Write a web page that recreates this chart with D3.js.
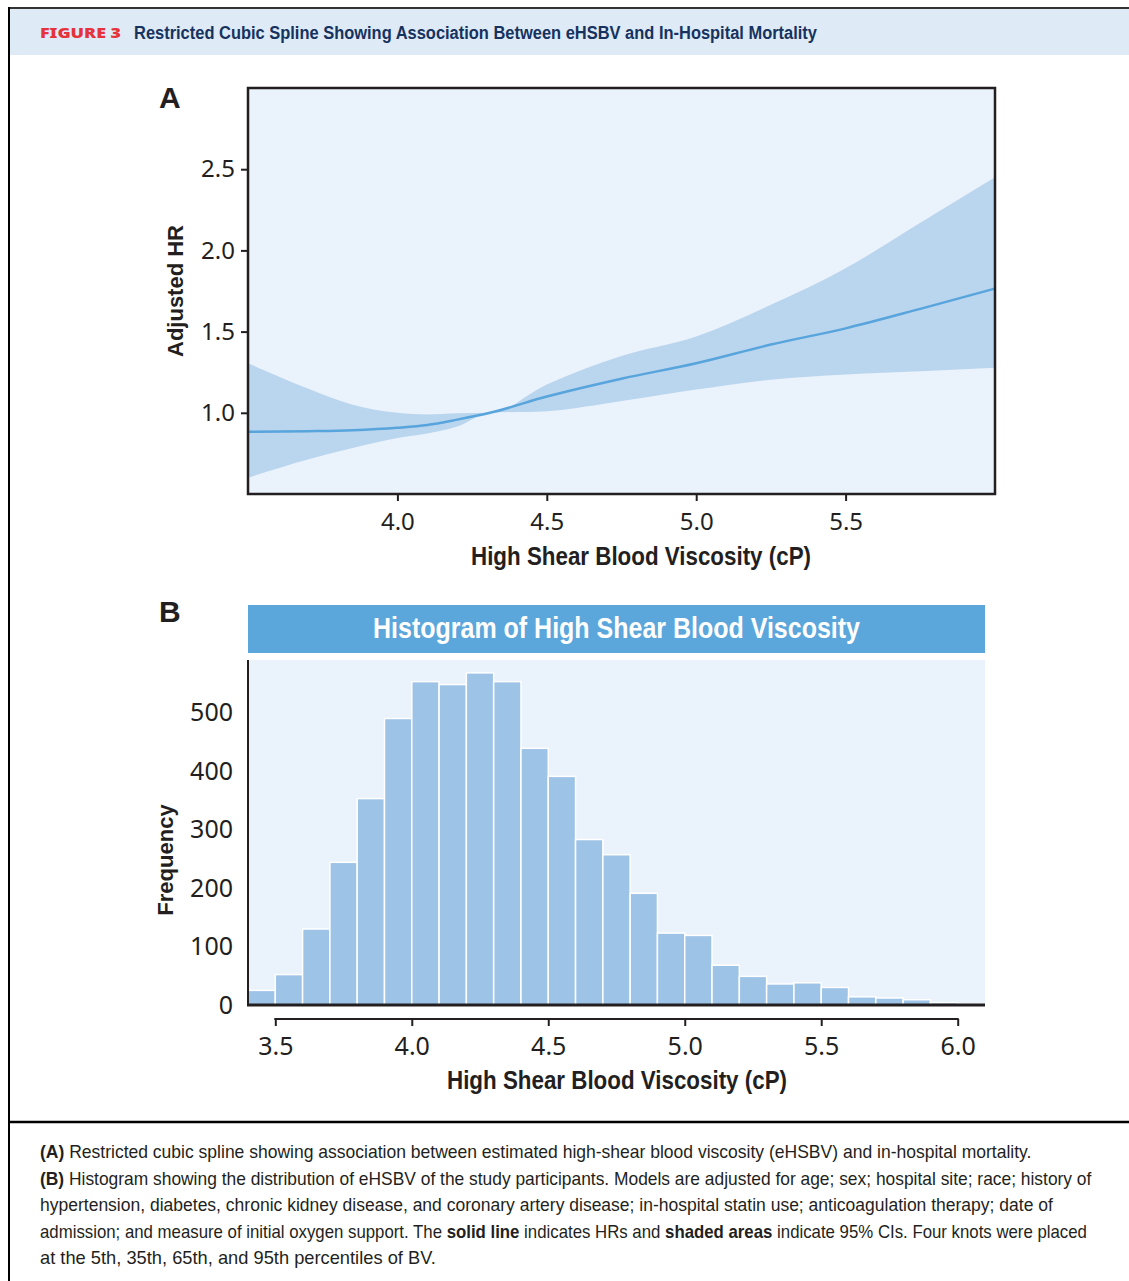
<!DOCTYPE html>
<html>
<head>
<meta charset="utf-8">
<script src="https://cdn.jsdelivr.net/npm/d3@7"></script>
<style>
  html, body { margin: 0; padding: 0; background: #fff; }
  svg { display: block; }
  .tick text { fill: #231f20; }
</style>
</head>
<body>
<svg id="fig" width="1129" height="1281"></svg>
<script>
// Restricted cubic spline estimates (HR with 95% CI) across eHSBV
const splineX = [3.5, 3.7, 3.85, 4.0, 4.1, 4.2, 4.31, 4.5, 4.75, 5.0, 5.25, 5.5, 5.75, 6.0];
const splineHR = [0.883, 0.887, 0.893, 0.908, 0.925, 0.958, 1.0, 1.10, 1.21, 1.305, 1.42, 1.52, 1.64, 1.765];
const splineUpper = [1.305, 1.15, 1.05, 1.0, 0.99, 0.998, 1.0, 1.175, 1.35, 1.47, 1.665, 1.89, 2.17, 2.45];
const splineLower = [0.60, 0.713, 0.783, 0.845, 0.872, 0.915, 1.0, 1.01, 1.072, 1.143, 1.204, 1.236, 1.256, 1.277];
const hrTicks = [1.0, 1.5, 2.0, 2.5];
const bvTicksA = [4.0, 4.5, 5.0, 5.5];

// Histogram of eHSBV, bins of 0.1 cP starting at 3.4
const binStarts = [3.4, 3.5, 3.6, 3.7, 3.8, 3.9, 4.0, 4.1, 4.2, 4.3, 4.4, 4.5, 4.6, 4.7, 4.8, 4.9, 5.0, 5.1, 5.2, 5.3, 5.4, 5.5, 5.6, 5.7, 5.8, 5.9, 6.0];
const binCounts = [25, 52, 130, 244, 353, 490, 553, 548, 568, 553, 439, 391, 283, 257, 191, 123, 119, 68, 49, 36, 38, 30, 14, 12, 9, 4, 1];
const binWidth = 0.1;
const freqTicks = [0, 100, 200, 300, 400, 500];
const bvTicksB = [3.5, 4.0, 4.5, 5.0, 5.5, 6.0];

const svg = d3.select("#fig");
const ink = "#231f20";
const sans = "'Noto Sans', 'DejaVu Sans', sans-serif";
const boldSans = "'Liberation Sans', Arial, sans-serif";

// condensed text: squeeze a single-run string into a fixed width
function fitText(sel, width) {
  return sel.attr("textLength", width).attr("lengthAdjust", "spacingAndGlyphs");
}

// ---------- Frame and header ----------
svg.append("rect").attr("x", 9).attr("y", 9).attr("width", 1120).attr("height", 46).attr("fill", "#deeaf6");
svg.append("line").attr("x1", 8).attr("x2", 1129).attr("y1", 8).attr("y2", 8).attr("stroke", "#333").attr("stroke-width", 2);
svg.append("line").attr("x1", 9).attr("x2", 9).attr("y1", 7).attr("y2", 1281).attr("stroke", "#000").attr("stroke-width", 2);
svg.append("line").attr("x1", 8).attr("x2", 1129).attr("y1", 1122).attr("y2", 1122).attr("stroke", "#000").attr("stroke-width", 2.5);

fitText(svg.append("text").attr("x", 40).attr("y", 38)
  .attr("font-family", sans).attr("font-weight", "900").attr("font-size", 14)
  .attr("fill", "#e6323b").text("FIGURE 3"), 81);
fitText(svg.append("text").attr("x", 134).attr("y", 39)
  .attr("font-family", boldSans).attr("font-weight", "bold").attr("font-size", 17.5)
  .attr("fill", "#16325f")
  .text("Restricted Cubic Spline Showing Association Between eHSBV and In-Hospital Mortality"), 683);

// ---------- Panel A: spline ----------
const A = { left: 248, right: 995, top: 88, bottom: 494 };
const xA = d3.scaleLinear().domain([3.5, 6.0]).range([A.left, A.right]);
const yA = d3.scaleLinear().domain([0.5, 3.0]).range([A.bottom, A.top]);
const splineRows = splineX.map((x, i) => ({ x, hr: splineHR[i], lo: splineLower[i], hi: splineUpper[i] }));

svg.append("text").attr("x", 159).attr("y", 108)
  .attr("font-family", boldSans).attr("font-weight", "bold").attr("font-size", 30).attr("fill", ink).text("A");

svg.append("rect").attr("x", A.left).attr("y", A.top)
  .attr("width", A.right - A.left).attr("height", A.bottom - A.top).attr("fill", "#eaf2fb");

svg.append("path").datum(splineRows)
  .attr("fill", "#bad5ee")
  .attr("d", d3.area().x(d => xA(d.x)).y0(d => yA(d.lo)).y1(d => yA(d.hi)).curve(d3.curveMonotoneX));

svg.append("path").datum(splineRows)
  .attr("fill", "none").attr("stroke", "#58a4dc").attr("stroke-width", 2.5)
  .attr("d", d3.line().x(d => xA(d.x)).y(d => yA(d.hr)).curve(d3.curveMonotoneX));

svg.append("rect").attr("x", A.left).attr("y", A.top)
  .attr("width", A.right - A.left).attr("height", A.bottom - A.top)
  .attr("fill", "none").attr("stroke", ink).attr("stroke-width", 2.5);

const yAxisA = svg.append("g").attr("transform", `translate(${A.left},0)`)
  .call(d3.axisLeft(yA).tickValues(hrTicks).tickFormat(d3.format(".1f")).tickSize(7).tickPadding(6));
yAxisA.select(".domain").remove();
yAxisA.selectAll("line").attr("stroke", ink).attr("stroke-width", 2);
yAxisA.selectAll("text").attr("font-family", sans).attr("font-size", 24);

const xAxisA = svg.append("g").attr("transform", `translate(0,${A.bottom})`)
  .call(d3.axisBottom(xA).tickValues(bvTicksA).tickFormat(d3.format(".1f")).tickSize(7).tickPadding(12));
xAxisA.select(".domain").remove();
xAxisA.selectAll("line").attr("stroke", ink).attr("stroke-width", 2);
xAxisA.selectAll("text").attr("font-family", sans).attr("font-size", 24);

fitText(svg.append("text").attr("x", 471).attr("y", 565)
  .attr("font-family", boldSans).attr("font-weight", "bold").attr("font-size", 26).attr("fill", ink)
  .text("High Shear Blood Viscosity (cP)"), 340);
svg.append("text").attr("transform", "translate(183,291) rotate(-90)").attr("text-anchor", "middle")
  .attr("font-family", boldSans).attr("font-weight", "bold").attr("font-size", 22).attr("fill", ink)
  .text("Adjusted HR");

// ---------- Panel B: histogram ----------
const B = { left: 248, right: 985, top: 660, bottom: 1005 };
const xB = d3.scaleLinear().domain([3.4, 6.1]).range([B.left, B.right]);
const yB = d3.scaleLinear().domain([0, 590]).range([B.bottom, B.top]);

svg.append("text").attr("x", 159).attr("y", 622)
  .attr("font-family", boldSans).attr("font-weight", "bold").attr("font-size", 30).attr("fill", ink).text("B");

svg.append("rect").attr("x", 248).attr("y", 605).attr("width", 737).attr("height", 48).attr("fill", "#5ba6db");
fitText(svg.append("text").attr("x", 373).attr("y", 638)
  .attr("font-family", boldSans).attr("font-weight", "bold").attr("font-size", 30).attr("fill", "#fff")
  .text("Histogram of High Shear Blood Viscosity"), 487);

svg.append("rect").attr("x", B.left).attr("y", B.top)
  .attr("width", B.right - B.left).attr("height", B.bottom - B.top).attr("fill", "#eaf2fb");

svg.append("g").selectAll("rect")
  .data(binStarts.map((x0, i) => ({ x0, x1: x0 + binWidth, n: binCounts[i] })))
  .join("rect")
  .attr("x", d => xB(d.x0)).attr("width", d => xB(d.x1) - xB(d.x0))
  .attr("y", d => yB(d.n)).attr("height", d => yB(0) - yB(d.n))
  .attr("fill", "#9dc3e7").attr("stroke", "#fff").attr("stroke-width", 1.5);

svg.append("line").attr("x1", B.left).attr("x2", B.left).attr("y1", B.top).attr("y2", B.bottom)
  .attr("stroke", ink).attr("stroke-width", 2);
svg.append("line").attr("x1", B.left - 1).attr("x2", B.right).attr("y1", B.bottom).attr("y2", B.bottom)
  .attr("stroke", ink).attr("stroke-width", 3);

const yAxisB = svg.append("g").attr("transform", `translate(${B.left},0)`)
  .call(d3.axisLeft(yB).tickValues(freqTicks).tickSize(0).tickPadding(15));
yAxisB.select(".domain").remove();
yAxisB.selectAll("text").attr("font-family", sans).attr("font-size", 25);

const axisBY = 1019;
const xAxisB = svg.append("g").attr("transform", `translate(0,${axisBY})`)
  .call(d3.axisBottom(xB).tickValues(bvTicksB).tickFormat(d3.format(".1f")).tickSize(7).tickPadding(11));
xAxisB.select(".domain").remove();
xAxisB.selectAll("line").attr("stroke", ink).attr("stroke-width", 2);
xAxisB.selectAll("text").attr("font-family", sans).attr("font-size", 25);
svg.append("line").attr("x1", xB(bvTicksB[0]) - 1).attr("x2", xB(bvTicksB[bvTicksB.length - 1]) + 1)
  .attr("y1", axisBY).attr("y2", axisBY).attr("stroke", ink).attr("stroke-width", 2);

fitText(svg.append("text").attr("x", 447).attr("y", 1089)
  .attr("font-family", boldSans).attr("font-weight", "bold").attr("font-size", 26).attr("fill", ink)
  .text("High Shear Blood Viscosity (cP)"), 340);
svg.append("text").attr("transform", "translate(173,860) rotate(-90)").attr("text-anchor", "middle")
  .attr("font-family", boldSans).attr("font-weight", "bold").attr("font-size", 22).attr("fill", ink)
  .text("Frequency");

// ---------- Legend text ----------
const captionLines = [
  [["(A)", true], [" Restricted cubic spline showing association between estimated high-shear blood viscosity (eHSBV) and in-hospital mortality.", false]],
  [["(B)", true], [" Histogram showing the distribution of eHSBV of the study participants. Models are adjusted for age; sex; hospital site; race; history of", false]],
  [["hypertension, diabetes, chronic kidney disease, and coronary artery disease; in-hospital statin use; anticoagulation therapy; date of", false]],
  [["admission; and measure of initial oxygen support. The ", false], ["solid line", true], [" indicates HRs and ", false], ["shaded areas", true], [" indicate 95% CIs. Four knots were placed", false]],
  [["at the 5th, 35th, 65th, and 95th percentiles of BV.", false]]
];
// line widths of the set legend text, each line scaled horizontally to its width
const captionWidths = [992, 1052, 1013, 1048, 396];
const cap = svg.append("g").attr("font-family", boldSans).attr("font-size", 17.5).attr("fill", ink);
captionLines.forEach((parts, i) => {
  const t = cap.append("text").attr("x", 0).attr("y", 0);
  parts.forEach(([s, b]) => t.append("tspan").attr("font-weight", b ? "bold" : "normal").text(s));
  const k = captionWidths[i] / t.node().getComputedTextLength();
  t.attr("transform", `translate(40,${1158 + i * 26.5}) scale(${k},1)`);
});
</script>
</body>
</html>
